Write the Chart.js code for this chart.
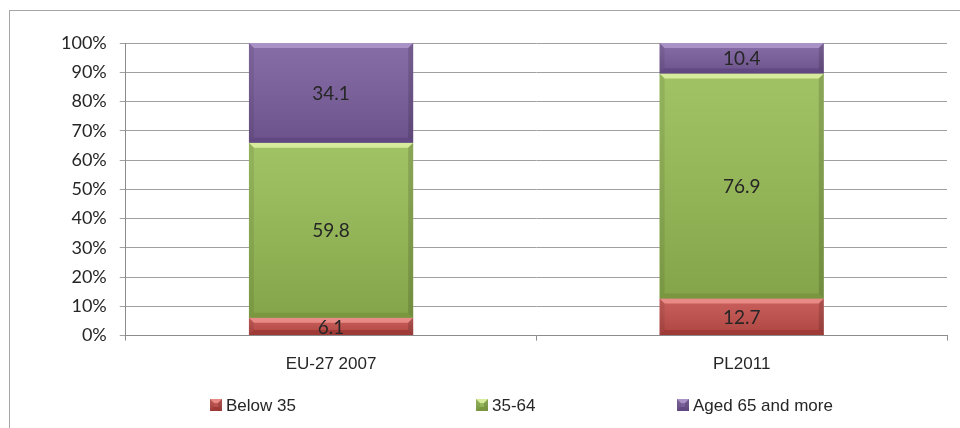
<!DOCTYPE html>
<html>
<head>
<meta charset="utf-8">
<script src="https://cdn.jsdelivr.net/npm/chart.js@4"></script>
<style>
  html, body { margin: 0; padding: 0; background: #fff; overflow: hidden; }
  #wrap { position: relative; width: 960px; height: 428px; }
  #frame { position: absolute; left: 9px; top: 10px; width: 1000px; height: 500px; border: 1px solid #a6a6a6; }
  canvas { position: absolute; left: 0; top: 0; }
</style>
</head>
<body>
<div id="wrap">
  <div id="frame"></div>
  <canvas id="ageChart" width="960" height="428"></canvas>
</div>
<script>
const categories = ["EU-27 2007", "PL2011"];
const below35 = [6.1, 12.7];
const age35to64 = [59.8, 76.9];
const aged65plus = [34.1, 10.4];
const seriesLabels = ["Below 35", "35-64", "Aged 65 and more"];

// base / light / dark tones per series
const tones = [
  { base: "#c44e4a", light: "#e88a86", dark: "#a03a37" },
  { base: "#96bb53", light: "#d6eb9c", dark: "#7a963f" },
  { base: "#7a5d9d", light: "#a993c6", dark: "#614882" },
];

function bevel(ctx, l, top, w, h, tone) {
  const r = l + w, bot = top + h;
  const b = Math.max(1, Math.min(5, h / 3, w / 3));
  const g = ctx.createLinearGradient(0, top, 0, bot);
  g.addColorStop(0, "rgba(255,255,255,0.10)");
  g.addColorStop(1, "rgba(0,0,0,0.12)");
  ctx.fillStyle = g;
  ctx.fillRect(l, top, w, h);
  const poly = (pts, fill) => {
    ctx.beginPath();
    ctx.moveTo(pts[0], pts[1]);
    for (let i = 2; i < pts.length; i += 2) ctx.lineTo(pts[i], pts[i + 1]);
    ctx.closePath();
    ctx.fillStyle = fill;
    ctx.fill();
  };
  poly([l, top, r, top, r - b, top + b, l + b, top + b], tone.light);
  poly([l, bot, r, bot, r - b, bot - b, l + b, bot - b], tone.dark);
  poly([l, top, l + b, top + b, l + b, bot - b, l, bot], "rgba(0,0,0,0.08)");
  poly([r, top, r - b, top + b, r - b, bot - b, r, bot], "rgba(0,0,0,0.14)");
}

const barStyle = {
  id: "barStyle",
  afterDatasetsDraw(chart) {
    const ctx = chart.ctx;
    ctx.save();
    chart.data.datasets.forEach((ds, di) => {
      const meta = chart.getDatasetMeta(di);
      meta.data.forEach((bar, i) => {
        const p = bar.getProps(["x", "y", "base", "width"], true);
        const top = Math.min(p.y, p.base), h = Math.abs(p.base - p.y);
        bevel(ctx, p.x - p.width / 2, top, p.width, h, tones[di]);
        ctx.fillStyle = "#262626";
        ctx.font = '19px "Lato"';
        ctx.textAlign = "center";
        ctx.textBaseline = "middle";
        ctx.fillText(ds.data[i].toFixed(1), p.x, top + h / 2 + 1);
      });
    });
    ctx.restore();
  },
};

const bottomLegend = {
  id: "bottomLegend",
  afterDraw(chart) {
    const { ctx, width, height } = chart;
    const slots = [0.219, 0.496, 0.705];
    ctx.save();
    ctx.font = '17px "Liberation Sans"';
    ctx.textBaseline = "middle";
    ctx.textAlign = "left";
    chart.data.datasets.forEach((ds, i) => {
      const x = Math.round(width * slots[i]), y = height - 23;
      ctx.fillStyle = tones[i].base;
      ctx.fillRect(x, y - 6, 12, 12);
      bevel(ctx, x, y - 6, 12, 12, tones[i]);
      ctx.fillStyle = "#262626";
      ctx.fillText(ds.label, x + 16, y + 1);
    });
    ctx.restore();
  },
};

const ctx = document.getElementById("ageChart").getContext("2d");

new Chart(ctx, {
  type: "bar",
  data: {
    labels: categories,
    datasets: [
      { label: seriesLabels[0], data: below35, backgroundColor: tones[0].base },
      { label: seriesLabels[1], data: age35to64, backgroundColor: tones[1].base },
      { label: seriesLabels[2], data: aged65plus, backgroundColor: tones[2].base },
    ],
  },
  options: {
    responsive: false,
    animation: false,
    barPercentage: 0.4,
    categoryPercentage: 1.0,
    borderWidth: 0,
    layout: { padding: { left: 48, right: 13, top: 43, bottom: 39 } },
    plugins: { legend: { display: false }, tooltip: { enabled: false } },
    scales: {
      x: {
        stacked: true,
        grid: { drawOnChartArea: false, drawTicks: true, tickLength: 5, color: "#8c8c8c" },
        border: { color: "#8c8c8c" },
        ticks: { padding: 14, color: "#262626", font: { family: "Liberation Sans", size: 17 } },
      },
      y: {
        stacked: true,
        min: 0,
        max: 100,
        grid: { color: "#a0a0a0", tickLength: 6 },
        border: { color: "#8c8c8c" },
        ticks: {
          stepSize: 10,
          padding: 13,
          color: "#262626",
          font: { family: "Lato", size: 18 },
          callback: (v) => v + "%",
        },
      },
    },
  },
  plugins: [barStyle, bottomLegend],
});
</script>
</body>
</html>
